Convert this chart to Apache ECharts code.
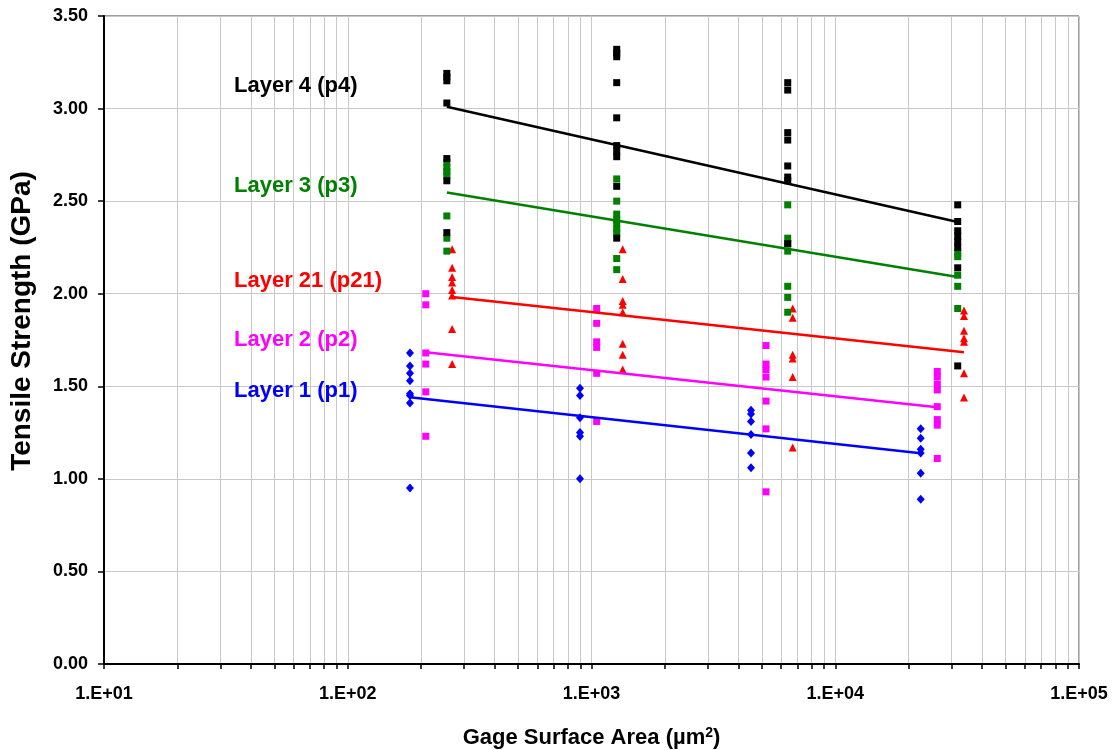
<!DOCTYPE html>
<html>
<head>
<meta charset="utf-8">
<script src="https://cdn.jsdelivr.net/npm/echarts@6/dist/echarts.min.js"></script>
<style>
html,body{margin:0;padding:0;background:#fff;}
#chart{width:1115px;height:750px;}
</style>
</head>
<body>
<div id="chart"></div>
<script>
// ---- Data (gage surface area in µm², tensile strength in GPa) ----
const decadeLabels = ['1.E+01', '1.E+02', '1.E+03', '1.E+04', '1.E+05'];
const yTickLabels = ['0.00', '0.50', '1.00', '1.50', '2.00', '2.50', '3.00', '3.50'];

const layer1Area = [180, 897, 4512, 22420];
const layer1Strength = [
  [1.68, 1.61, 1.57, 1.53, 1.46, 1.45, 1.41, 0.95],
  [1.49, 1.45, 1.33, 1.25, 1.23, 1.00],
  [1.37, 1.35, 1.31, 1.24, 1.14, 1.06],
  [1.27, 1.22, 1.16, 1.14, 1.03, 0.89]
];
const layer2Area = [209, 1050, 5200, 26220];
const layer2Strength = [
  [2.00, 1.94, 1.68, 1.62, 1.47, 1.23],
  [1.92, 1.84, 1.74, 1.71, 1.57, 1.31],
  [1.72, 1.62, 1.59, 1.55, 1.42, 1.27, 0.93],
  [1.58, 1.55, 1.51, 1.48, 1.39, 1.32, 1.29, 1.11]
];
const layer21Area = [268, 1343, 6690, 33740];
const layer21Strength = [
  [2.24, 2.14, 2.09, 2.06, 2.02, 1.99, 1.81, 1.62],
  [2.24, 2.08, 1.96, 1.94, 1.90, 1.73, 1.67, 1.59],
  [1.92, 1.87, 1.67, 1.65, 1.55, 1.17],
  [1.91, 1.88, 1.80, 1.76, 1.74, 1.57, 1.44]
];
const layer3Area = [255, 1269, 6383, 31800];
const layer3Strength = [
  [2.71, 2.68, 2.66, 2.64, 2.42, 2.30, 2.23],
  [2.62, 2.50, 2.43, 2.40, 2.38, 2.35, 2.33, 2.19, 2.13],
  [2.48, 2.30, 2.27, 2.23, 2.04, 1.98, 1.90],
  [2.22, 2.20, 2.10, 2.04, 1.92]
];
const layer4Area = [255, 1269, 6383, 31800];
const layer4Strength = [
  [3.19, 3.17, 3.15, 3.03, 2.73, 2.61, 2.33],
  [3.32, 3.30, 3.28, 3.14, 2.95, 2.80, 2.77, 2.74, 2.58, 2.30],
  [3.14, 3.10, 2.87, 2.83, 2.69, 2.63, 2.61, 2.27],
  [2.48, 2.39, 2.34, 2.31, 2.28, 2.25, 2.14, 1.61]
];
// Power-law trend lines (endpoints)
const trend1Area = [180, 22420],   trend1Strength = [1.441, 1.138];
const trend2Area = [209, 26220],   trend2Strength = [1.684, 1.387];
const trend21Area = [268, 33740],  trend21Strength = [1.982, 1.684];
const trend3Area = [255, 31800],   trend3Strength = [2.547, 2.090];
const trend4Area = [255, 31800],   trend4Strength = [3.010, 2.387];

const layerNames = ['Layer 1 (p1)', 'Layer 2 (p2)', 'Layer 21 (p21)', 'Layer 3 (p3)', 'Layer 4 (p4)'];

// ---- Build ----
const lg = v => Math.log10(v);
function points(areas, strengths) {
  const out = [];
  areas.forEach((a, i) => strengths[i].forEach(s => out.push([lg(a), s])));
  return out;
}
function line(areas, strengths) {
  return areas.map((a, i) => [lg(a), strengths[i]]);
}
// tick positions for log axis (decades and 2..9 subdivisions)
const logTicks = [];
for (let d = 1; d <= 4; d++) for (let k = 1; k <= 9; k++) logTicks.push(lg(k * Math.pow(10, d)));
logTicks.push(5);

const FONT = 'Liberation Sans, Arial, sans-serif';
const colors = { l1: '#0000ff', l2: '#ff00ff', l21: '#ff0000', l3: '#008000', l4: '#000000' };

function scatter(name, data, color, symbol, size) {
  return { name, type: 'scatter', data, symbol, symbolSize: size,
    itemStyle: { color, opacity: 1 }, silent: true, z: 3 };
}
function trend(name, data, color) {
  return { name, type: 'line', data, showSymbol: false, symbol: 'none',
    lineStyle: { color, width: 2.5 }, silent: true, z: 4 };
}
function label(text, y, color) {
  return { type: 'text', x: 234, y, z: 100,
    style: { text, fontFamily: FONT, fontSize: 22, fontWeight: 'bold', fill: color, align: 'left', verticalAlign: 'middle' } };
}

const chart = echarts.init(document.getElementById('chart'), null, { renderer: 'canvas' });
chart.setOption({
  animation: false,
  backgroundColor: '#ffffff',
  grid: { left: 104, right: 36, top: 16, bottom: 86, show: true, borderColor: '#404040', borderWidth: 1,
    containLabel: false, outerBoundsMode: 'none' },
  xAxis: {
    type: 'value', min: 1, max: 5, interval: 1,
    name: 'Gage Surface Area (µm{sup|2})',
    nameLocation: 'middle', nameGap: 62,
    nameTextStyle: { fontFamily: FONT, fontSize: 22, fontWeight: 'bold', color: '#000',
      rich: { sup: { fontFamily: FONT, fontSize: 14, fontWeight: 'bold', color: '#000', verticalAlign: 'top', padding: [0, 0, 10, 0] } } },
    axisLine: { show: true, lineStyle: { color: '#000', width: 2 } },
    axisTick: { show: true, inside: false, length: 5, lineStyle: { color: '#000', width: 1.5 }, customValues: logTicks },
    axisLabel: { customValues: [1, 2, 3, 4, 5], margin: 21, fontFamily: FONT, fontSize: 18, fontWeight: 'bold', color: '#000',
      formatter: v => decadeLabels[Math.round(v) - 1] },
    splitLine: { show: true, lineStyle: { color: '#c8c8c8', width: 1 } }
  },
  yAxis: {
    type: 'value', min: 0, max: 3.5, interval: 0.5,
    axisLine: { show: true, lineStyle: { color: '#000', width: 2 } },
    axisTick: { show: true, inside: false, length: 6, lineStyle: { color: '#000', width: 1.5 } },
    axisLabel: { margin: 16, fontFamily: FONT, fontSize: 18, fontWeight: 'bold', color: '#000',
      formatter: v => yTickLabels[Math.round(v / 0.5)] },
    splitLine: { show: true, lineStyle: { color: '#c8c8c8', width: 1 } }
  },
  graphic: [
    { type: 'text', x: 22, y: 321, rotation: Math.PI / 2, z: 100,
      style: { text: 'Tensile Strength (GPa)', fontFamily: FONT, fontSize: 28, fontWeight: 'bold', fill: '#000', align: 'center', verticalAlign: 'middle' } },
    label(layerNames[4], 86, colors.l4),
    label(layerNames[3], 186, colors.l3),
    label(layerNames[2], 281, colors.l21),
    label(layerNames[1], 340, colors.l2),
    label(layerNames[0], 391, colors.l1)
  ],
  series: [
    scatter(layerNames[0], points(layer1Area, layer1Strength), colors.l1, 'diamond', [8, 9]),
    scatter(layerNames[1], points(layer2Area, layer2Strength), colors.l2, 'rect', 7),
    scatter(layerNames[2], points(layer21Area, layer21Strength), colors.l21, 'triangle', 8),
    scatter(layerNames[3], points(layer3Area, layer3Strength), colors.l3, 'rect', 7),
    scatter(layerNames[4], points(layer4Area, layer4Strength), colors.l4, 'rect', 7),
    trend(layerNames[0] + ' fit', line(trend1Area, trend1Strength), colors.l1),
    trend(layerNames[1] + ' fit', line(trend2Area, trend2Strength), colors.l2),
    trend(layerNames[2] + ' fit', line(trend21Area, trend21Strength), colors.l21),
    trend(layerNames[3] + ' fit', line(trend3Area, trend3Strength), colors.l3),
    trend(layerNames[4] + ' fit', line(trend4Area, trend4Strength), colors.l4)
  ]
});
</script>
</body>
</html>
